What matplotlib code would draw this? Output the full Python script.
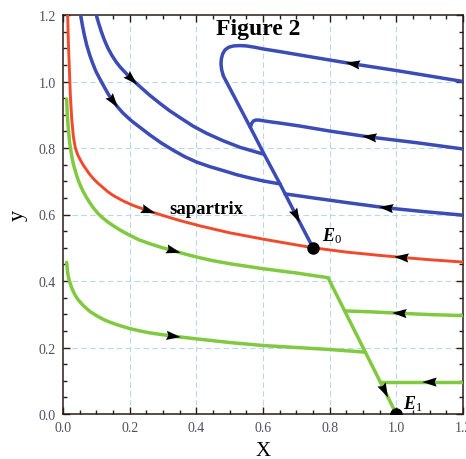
import numpy as np
import matplotlib.pyplot as plt
from matplotlib.patches import Polygon
from matplotlib.ticker import MultipleLocator, FormatStrFormatter

plt.rcParams['font.family'] = ['Liberation Serif', 'DejaVu Serif']
plt.rcParams['mathtext.fontset'] = 'custom'
plt.rcParams['mathtext.it'] = 'Liberation Serif:italic:bold'
plt.rcParams['mathtext.rm'] = 'Liberation Serif'

# trajectories, points listed in the direction of flow
blue_a_x = [0.10, 0.107, 0.115, 0.124, 0.135, 0.147, 0.16, 0.172, 0.185, 0.206, 0.235, 0.261, 0.291,
            0.32, 0.35, 0.39, 0.431, 0.48, 0.531, 0.60]
blue_a_y = [1.2, 1.175, 1.15, 1.125, 1.10, 1.078, 1.058, 1.043, 1.029, 1.007, 0.981, 0.958, 0.934,
            0.912, 0.892, 0.866, 0.844, 0.822, 0.802, 0.782]

blue_b_x = [0.053, 0.058, 0.064, 0.071, 0.08, 0.089, 0.099, 0.111, 0.124, 0.137, 0.151, 0.165, 0.18,
            0.205, 0.231, 0.261, 0.295, 0.331, 0.365, 0.40, 0.44, 0.481, 0.52, 0.56, 0.60, 0.651]
blue_b_y = [1.2, 1.17, 1.14, 1.11, 1.08, 1.055, 1.03, 1.007, 0.983, 0.96, 0.94, 0.922, 0.905,
            0.882, 0.862, 0.839, 0.815, 0.793, 0.774, 0.758, 0.744, 0.732, 0.72, 0.71, 0.701, 0.692]

blue_d_x = [1.2, 1.0, 0.87, 0.75, 0.65, 0.60, 0.575, 0.55, 0.53, 0.512, 0.497, 0.486, 0.479, 0.475,
            0.474, 0.476, 0.481]
blue_d_y = [1.0, 1.033, 1.053, 1.073, 1.09, 1.098, 1.103, 1.107, 1.108, 1.107, 1.103, 1.095, 1.083,
            1.068, 1.052, 1.035, 1.017]

blue_stem_x = [0.481, 0.562, 0.603, 0.651, 0.70, 0.75]
blue_stem_y = [1.017, 0.862, 0.782, 0.692, 0.596, 0.50]

blue_e_x = [1.2, 1.06, 0.92, 0.80, 0.711, 0.65, 0.62, 0.60, 0.588, 0.578, 0.571, 0.566, 0.562]
blue_e_y = [0.797, 0.816, 0.833, 0.851, 0.866, 0.875, 0.879, 0.882, 0.884, 0.884, 0.881, 0.874, 0.862]

blue_f_x = [1.2, 1.08, 0.97, 0.85, 0.75, 0.666]
blue_f_y = [0.598, 0.609, 0.62, 0.636, 0.65, 0.662]

red_left_x = [0.014, 0.016, 0.019, 0.022, 0.026, 0.031, 0.037, 0.044, 0.051, 0.06, 0.07, 0.08, 0.091,
              0.105, 0.12, 0.135, 0.151, 0.18, 0.211, 0.256, 0.30, 0.35, 0.41, 0.50, 0.60, 0.68, 0.75]
red_left_y = [1.2, 1.12, 1.04, 0.96, 0.89, 0.835, 0.80, 0.78, 0.766, 0.75, 0.735, 0.721, 0.708,
              0.694, 0.681, 0.668, 0.657, 0.641, 0.627, 0.611, 0.597, 0.582, 0.566, 0.545, 0.526,
              0.512, 0.50]

red_right_x = [1.2, 1.1, 1.016, 0.95, 0.85, 0.75]
red_right_y = [0.457, 0.464, 0.471, 0.477, 0.487, 0.50]

green_top_x = [0.011, 0.013, 0.016, 0.02, 0.026, 0.031, 0.038, 0.045, 0.051, 0.06, 0.07, 0.08, 0.091,
               0.105, 0.12, 0.135, 0.151, 0.175, 0.201, 0.23, 0.261, 0.295, 0.331, 0.37, 0.41, 0.45,
               0.50, 0.60, 0.70, 0.795]
green_top_y = [0.947, 0.90, 0.857, 0.815, 0.777, 0.752, 0.727, 0.705, 0.69, 0.67, 0.652, 0.636, 0.62,
               0.603, 0.589, 0.577, 0.566, 0.551, 0.537, 0.523, 0.512, 0.501, 0.491, 0.48, 0.47,
               0.461, 0.452, 0.437, 0.424, 0.41]

green_stem_x = [0.795, 0.845, 0.907, 0.952, 0.965, 1.0]
green_stem_y = [0.41, 0.31, 0.186, 0.096, 0.07, 0.0]

green_mid_x = [1.2, 1.1, 1.01, 0.93, 0.845]
green_mid_y = [0.296, 0.299, 0.303, 0.307, 0.31]

green_low_right_x = [1.2, 1.1, 1.0, 0.952]
green_low_right_y = [0.096, 0.096, 0.096, 0.096]

green_low_x = [0.011, 0.013, 0.015, 0.018, 0.021, 0.027, 0.035, 0.045, 0.061, 0.08, 0.10, 0.12, 0.141,
               0.17, 0.20, 0.23, 0.26, 0.295, 0.331, 0.40, 0.50, 0.60, 0.70, 0.80, 0.907]
green_low_y = [0.456, 0.435, 0.418, 0.405, 0.395, 0.377, 0.36, 0.344, 0.326, 0.309, 0.296, 0.285,
               0.276, 0.266, 0.257, 0.25, 0.244, 0.239, 0.234, 0.226, 0.215, 0.206, 0.20, 0.194, 0.186]

equilibria = [(0.75, 0.50), (1.0, 0.0)]

blue = '#3b4cb6'
red = '#ef4a2c'
green = '#80c940'

# (x, y, colour, index of point carrying an arrow head)
curves = [
    (blue_a_x, blue_a_y, blue, 9),
    (blue_b_x, blue_b_y, blue, 10),
    (blue_d_x, blue_d_y, blue, 2),
    (blue_stem_x, blue_stem_y, blue, 4),
    (blue_e_x, blue_e_y, blue, 2),
    (blue_f_x, blue_f_y, blue, 2),
    (red_left_x, red_left_y, red, 19),
    (red_right_x, red_right_y, red, 2),
    (green_top_x, green_top_y, green, 22),
    (green_stem_x, green_stem_y, green, 4),
    (green_mid_x, green_mid_y, green, 2),
    (green_low_right_x, green_low_right_y, green, 1),
    (green_low_x, green_low_y, green, 18),
]

fig = plt.figure(figsize=(4.66, 4.60), dpi=100)
ax = fig.add_axes([63 / 466, 45 / 460, 400 / 466, 399 / 460])
ax.set_xlim(0, 1.2)
ax.set_ylim(0, 1.2)

for x, y, c, _ in curves:
    lw = 2.1 if c == red else 2.5
    ax.plot(x, y, color=c, lw=lw, solid_capstyle='round', solid_joinstyle='round', zorder=3)

# arrow heads, built in pixel space then mapped back to data
head = np.array([[7.5, 0.0], [-7.0, 4.6], [-5.0, 0.0], [-7.0, -4.6]])
to_data = ax.transData.inverted()
for x, y, c, i in curves:
    p = ax.transData.transform((x[i], y[i]))
    p0 = ax.transData.transform((x[i - 1], y[i - 1]))
    p1 = ax.transData.transform((x[i + 1], y[i + 1]))
    ang = np.arctan2(p1[1] - p0[1], p1[0] - p0[0])
    rot = np.array([[np.cos(ang), -np.sin(ang)], [np.sin(ang), np.cos(ang)]])
    verts = to_data.transform(head @ rot.T + p)
    ax.add_patch(Polygon(verts, closed=True, facecolor='k', edgecolor='none', zorder=5))

for ex, ey in equilibria:
    ax.plot(ex, ey, 'o', color='k', ms=8, zorder=6)

ax.text(0.777, 0.508, r'$E_0$', fontsize=13, va='bottom', ha='left')
ax.text(1.02, 0.004, r'$E_1$', fontsize=13, va='bottom', ha='left')
ax.text(0.585, 1.158, 'Figure 2', fontsize=17, fontweight='bold', ha='center', va='center')
ax.text(0.32, 0.617, 'sapartrix', fontsize=13.5, fontweight='bold', ha='left', va='center')

ax.set_xlabel('X', fontsize=15, labelpad=5)
ax.set_ylabel('y', fontsize=16, labelpad=8)

ticks = np.arange(0, 1.21, 0.2)
ax.set_xticks(ticks)
ax.set_yticks(ticks)
ax.xaxis.set_minor_locator(MultipleLocator(0.05))
ax.yaxis.set_minor_locator(MultipleLocator(0.05))
ax.xaxis.set_major_formatter(FormatStrFormatter('%.1f'))
ax.yaxis.set_major_formatter(FormatStrFormatter('%.1f'))
ax.tick_params(which='both', direction='in', top=True, right=True, color='#2b1b17', width=1)
ax.tick_params(which='major', length=5, labelsize=10, labelcolor='#505060', pad=5)
ax.tick_params(which='minor', length=3)
for s in ax.spines.values():
    s.set_color('#2b1b17')
    s.set_linewidth(1.1)

for t in ticks[1:-1]:
    ax.axvline(t, color='#b9d7ee', lw=0.8, ls=(0, (5, 3)), zorder=1)
    ax.axhline(t, color='#b9d7ee', lw=0.8, ls=(0, (5, 3)), zorder=1)

fig.savefig('out.png', dpi=100)
